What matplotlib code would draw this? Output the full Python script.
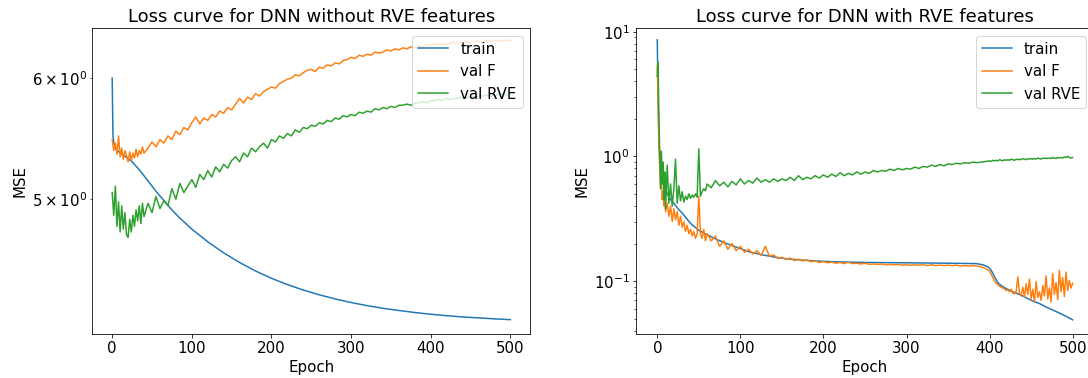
import numpy as np
import matplotlib
matplotlib.use('Agg')
import matplotlib.pyplot as plt

plt.rcParams['font.size'] = 15

# ---- DNN without RVE features ----
ep_train_L = [0, 1, 2, 4, 8, 15, 25, 35, 45, 55, 65, 75, 85, 100, 120, 140, 160, 180, 200, 220,
              240, 260, 280, 300, 320, 340, 360, 380, 400, 420, 440, 460, 480, 500]
train_L = [6.00, 5.50, 5.45, 5.40, 5.37, 5.34, 5.29, 5.22, 5.14, 5.06, 4.99, 4.92, 4.86, 4.78, 4.69,
           4.612, 4.546, 4.488, 4.439, 4.397, 4.361, 4.330, 4.303, 4.280, 4.260, 4.243, 4.229,
           4.216, 4.205, 4.196, 4.188, 4.182, 4.176, 4.171]

ep_val_L = list(range(0, 41, 2)) + list(range(45, 501, 5))
valF_L = [5.47, 5.38, 5.44, 5.35, 5.50, 5.33, 5.40, 5.31, 5.38, 5.34, 5.29, 5.37, 5.30, 5.36, 5.32,
          5.39, 5.33, 5.38, 5.35, 5.41, 5.36,
          5.40, 5.45, 5.41, 5.47, 5.44, 5.50, 5.47, 5.54, 5.51, 5.57,
          5.55, 5.61, 5.66, 5.60, 5.65, 5.63, 5.68, 5.66, 5.71, 5.69,
          5.74, 5.72, 5.77, 5.82, 5.78, 5.83, 5.81, 5.86, 5.84, 5.88,
          5.90, 5.92, 5.91, 5.95, 5.97, 5.99, 6.00, 6.03, 6.02, 6.05,
          6.07, 6.08, 6.06, 6.10, 6.09, 6.12, 6.11, 6.14, 6.13, 6.16,
          6.17, 6.19, 6.18, 6.21, 6.20, 6.22, 6.21, 6.24, 6.23, 6.24,
          6.26, 6.25, 6.27, 6.26, 6.28, 6.27, 6.29, 6.28, 6.30, 6.29,
          6.31, 6.30, 6.32, 6.31, 6.32, 6.31, 6.33, 6.32, 6.33, 6.33,
          6.34, 6.33, 6.34, 6.34, 6.33, 6.35, 6.34, 6.35, 6.34, 6.35,
          6.35, 6.35]
valRVE_L = [5.05, 4.88, 5.10, 4.80, 4.98, 4.76, 4.95, 4.78, 4.90, 4.74, 4.72, 4.85, 4.76, 4.88, 4.80,
            4.92, 4.84, 4.95, 4.82, 4.97, 4.87,
            4.97, 4.90, 5.02, 4.93, 4.99, 4.95, 5.08, 5.00, 5.12, 5.05,
            5.10, 5.15, 5.09, 5.19, 5.15, 5.22, 5.17, 5.25, 5.21, 5.27,
            5.24, 5.30, 5.33, 5.29, 5.36, 5.33, 5.40, 5.37, 5.41, 5.44,
            5.40, 5.47, 5.45, 5.50, 5.48, 5.52, 5.50, 5.55, 5.53, 5.57,
            5.56, 5.59, 5.58, 5.61, 5.60, 5.63, 5.62, 5.65, 5.64, 5.67,
            5.66, 5.68, 5.67, 5.70, 5.69, 5.71, 5.70, 5.73, 5.72, 5.74,
            5.73, 5.75, 5.74, 5.76, 5.76, 5.77, 5.76, 5.78, 5.78, 5.79,
            5.78, 5.80, 5.80, 5.81, 5.80, 5.82, 5.81, 5.82, 5.82, 5.83,
            5.82, 5.84, 5.83, 5.84, 5.84, 5.85, 5.84, 5.85, 5.85, 5.86,
            5.85, 5.86]

# ---- DNN with RVE features ----
ep_train_R = [0, 1, 2, 3, 5, 8, 12, 16, 20, 25, 30, 35, 40, 50, 60, 72, 85, 97, 110, 125,
              140, 155, 170, 190, 210, 250, 300, 350, 384, 392, 398, 402, 406, 410, 414,
              420, 430, 440, 450, 460, 470, 480, 490, 500]
train_R = [8.6, 3.0, 1.4, 1.0, 0.75, 0.6, 0.5, 0.45, 0.42, 0.38, 0.35, 0.32, 0.29, 0.255, 0.235,
           0.215, 0.198, 0.185, 0.172, 0.163, 0.156, 0.151, 0.148, 0.145, 0.143, 0.141, 0.140,
           0.139, 0.138, 0.135, 0.130, 0.122, 0.108, 0.097, 0.092, 0.087, 0.081, 0.076, 0.070,
           0.066, 0.061, 0.057, 0.053, 0.0488]

ep_val_R = (list(range(0, 11)) + list(range(12, 61, 2)) + list(range(65, 401, 5))
            + list(range(402, 501, 2)))
valF_R = [5.3, 2.9, 1.2, 0.80, 0.55, 0.62, 0.45, 0.52, 0.40, 0.47, 0.36,
          0.42, 0.33, 0.40, 0.30, 0.38, 0.31, 0.36, 0.28, 0.33, 0.27, 0.30, 0.25, 0.28, 0.24, 0.26,
          0.23, 0.25, 0.22, 0.24, 0.48, 0.24, 0.22, 0.26, 0.21, 0.24,
          0.21, 0.23, 0.19, 0.21, 0.18, 0.20, 0.175, 0.19, 0.17, 0.18,
          0.165, 0.175, 0.16, 0.19, 0.158, 0.162, 0.152, 0.155, 0.149, 0.153,
          0.146, 0.150, 0.145, 0.148, 0.143, 0.145, 0.141, 0.143, 0.140, 0.142,
          0.139, 0.141, 0.138, 0.142, 0.138, 0.139, 0.137, 0.139, 0.136, 0.137,
          0.136, 0.137, 0.135, 0.136, 0.135, 0.136, 0.134, 0.135, 0.134, 0.135,
          0.134, 0.135, 0.133, 0.135, 0.133, 0.134, 0.133, 0.134, 0.133, 0.134,
          0.132, 0.133, 0.132, 0.133, 0.132, 0.130, 0.126, 0.120,
          0.113, 0.106, 0.100, 0.096, 0.093, 0.091, 0.089, 0.088, 0.086, 0.084,
          0.085, 0.082, 0.086, 0.080, 0.079, 0.083, 0.108, 0.080, 0.076, 0.089,
          0.075, 0.095, 0.078, 0.104, 0.072, 0.086, 0.068, 0.099, 0.074, 0.082,
          0.070, 0.092, 0.076, 0.110, 0.072, 0.088, 0.068, 0.115, 0.078, 0.097,
          0.071, 0.122, 0.082, 0.107, 0.075, 0.118, 0.084, 0.101, 0.088, 0.096]
valRVE_R = [4.4, 5.7, 2.0, 1.05, 0.55, 1.1, 0.6, 0.9, 0.45, 0.75, 0.38,
            0.85, 0.42, 0.60, 0.40, 0.55, 0.95, 0.42, 0.58, 0.44, 0.52, 0.43, 0.48, 0.45, 0.50,
            0.46, 0.49, 0.47, 0.50, 0.47, 1.15, 0.48, 0.52, 0.55, 0.53, 0.60,
            0.56, 0.64, 0.58, 0.62, 0.57, 0.63, 0.59, 0.66, 0.60, 0.64,
            0.61, 0.67, 0.62, 0.65, 0.62, 0.66, 0.63, 0.66, 0.64, 0.68,
            0.64, 0.70, 0.65, 0.68, 0.66, 0.70, 0.67, 0.71, 0.68, 0.72,
            0.69, 0.74, 0.70, 0.73, 0.71, 0.75, 0.72, 0.75, 0.73, 0.77,
            0.75, 0.77, 0.76, 0.79, 0.77, 0.80, 0.78, 0.80, 0.79, 0.82,
            0.80, 0.83, 0.82, 0.85, 0.83, 0.86, 0.84, 0.87, 0.86, 0.88,
            0.87, 0.89, 0.88, 0.90, 0.89, 0.90, 0.91, 0.92,
            0.91, 0.93, 0.92, 0.93, 0.92, 0.94, 0.93, 0.92, 0.94, 0.93,
            0.94, 0.93, 0.95, 0.94, 0.93, 0.95, 0.94, 0.95, 0.94, 0.96,
            0.95, 0.94, 0.96, 0.95, 0.96, 0.95, 0.96, 0.95, 0.97, 0.96,
            0.95, 0.97, 0.96, 0.97, 0.96, 0.97, 0.96, 0.98, 0.97, 0.96,
            0.98, 0.97, 0.98, 0.97, 0.99, 0.98, 1.00, 0.98, 0.97, 0.98]

fig = plt.figure(figsize=(1088 / 72, 378 / 72), dpi=72)
# right panel runs past the edge of the picture, like the original screenshot
ax1 = fig.add_axes([0.0848, 0.1156, 0.4026, 0.8103])
ax2 = fig.add_axes([0.5850, 0.1156, 0.4200, 0.8103])

ax1.plot(ep_train_L, train_L, label='train')
ax1.plot(ep_val_L, valF_L, label='val F')
ax1.plot(ep_val_L, valRVE_L, label='val RVE')
ax1.set_yscale('log')
ax1.set_ylim(4.08, 6.47)
ax1.set_title('Loss curve for DNN without RVE features')
ax1.set_xlabel('Epoch')
ax1.set_ylabel('MSE')
ax1.legend(loc='upper right')

ax2.plot(ep_train_R, train_R, label='train')
ax2.plot(ep_val_R, valF_R, label='val F')
ax2.plot(ep_val_R, valRVE_R, label='val RVE')
ax2.set_yscale('log')
ax2.set_ylim(0.0374, 10.7)
ax2.set_title('Loss curve for DNN with RVE features')
ax2.set_xlabel('Epoch')
ax2.set_ylabel('MSE')
ax2.legend(loc='upper right')

fig.savefig('out.png', dpi=72)
